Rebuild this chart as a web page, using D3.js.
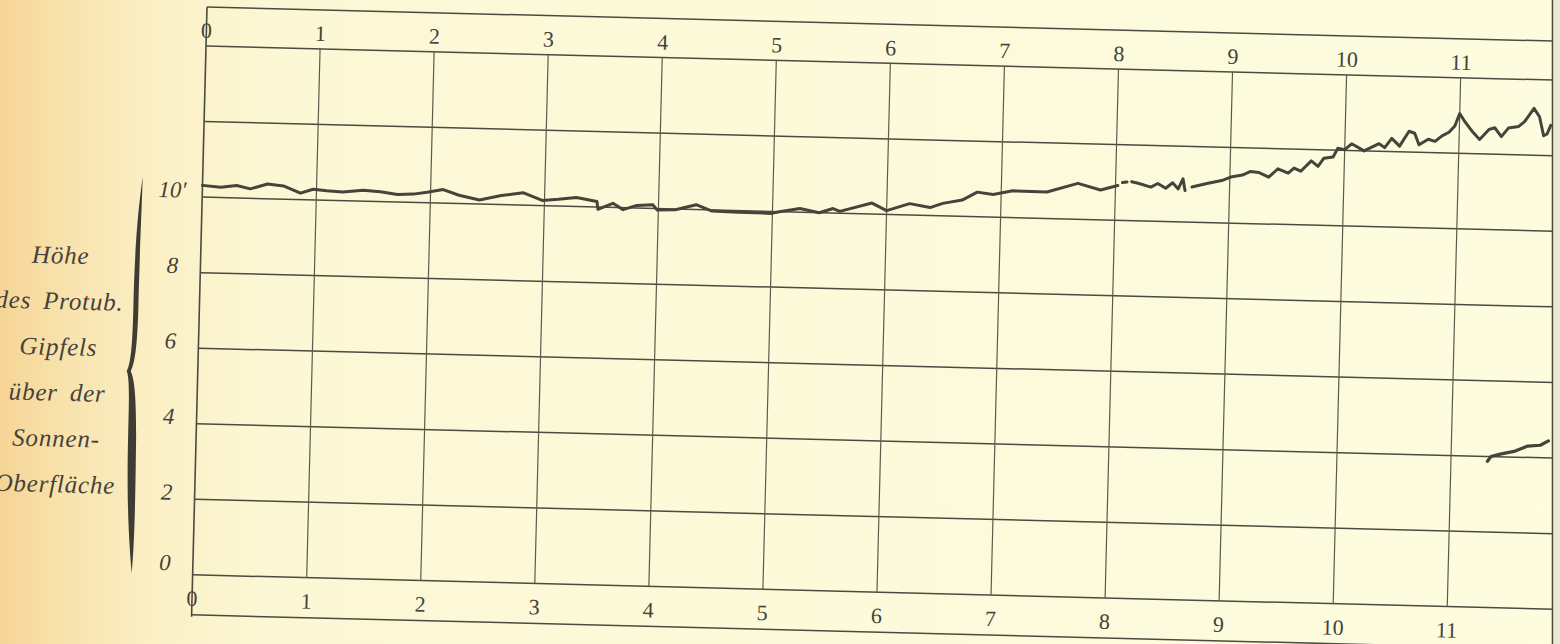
<!DOCTYPE html>
<html>
<head>
<meta charset="utf-8">
<script src="https://cdn.jsdelivr.net/npm/d3@7"></script>
<style>
  html, body { margin: 0; padding: 0; background: #fcfbdc; }
  svg { display: block; }
  text { font-family: "Liberation Serif", "Times New Roman", serif; fill: #45423a; }
</style>
</head>
<body>
<svg id="chart"></svg>
<script>
// hour marks along top and bottom band
const hourTicks = [0, 1, 2, 3, 4, 5, 6, 7, 8, 9, 10, 11];
const hourLabels = ["0", "1", "2", "3", "4", "5", "6", "7", "8", "9", "10", "11"];

// height scale (minutes of arc)
const heightTicks = [0, 2, 4, 6, 8, 10];
const heightLabels = ["0", "2", "4", "6", "8", "10′"];
const gridHeights = [0, 2, 4, 6, 8, 10, 12, 14];

const captionLines = ["Höhe", "des Protub.", "Gipfels", "über der", "Sonnen-", "Oberfläche"];

// main trace (null = break in the pen line)
const mainHours = [
    0.00, 0.16, 0.30, 0.42, 0.57, 0.71, 0.86, 0.97, 1.09, 1.23, 1.41, 1.56, 1.71, 1.85, 1.97,
    2.11, 2.25, 2.43, 2.62, 2.81, 2.98, 3.12, 3.28, 3.46, 3.47, 3.60, 3.69, 3.81, 3.95, 3.99,
    4.15, 4.33, 4.47, 4.70, 4.99, 5.06, 5.24, 5.41, 5.53, 5.59, 5.87, 6.00, 6.20, 6.38, 6.49,
    6.66, 6.79, 6.93, 7.10, 7.40, 7.67, 7.87, 8.02, null, 8.06, 8.10, null, 8.14, 8.19, 8.31,
    8.37, 8.44, 8.50, 8.55, 8.59, 8.61, null, 8.67, 8.80, 8.94, 9.02, 9.11, 9.18, 9.25, 9.34,
    9.42, 9.51, 9.56, 9.62, 9.71, 9.77, 9.82, 9.90, 9.94, 10.00, 10.06, 10.17, 10.30, 10.35,
    10.41, 10.48, 10.56, 10.61, 10.65, 10.73, 10.79, 10.85, 10.91, 10.96, 11.00, 11.04, 11.11,
    11.18, 11.26, 11.31, 11.37, 11.43, 11.52, 11.57, 11.65, 11.70, 11.74, 11.77, 11.80
];
const mainHeights = [
    10.31, 10.27, 10.33, 10.25, 10.39, 10.35, 10.17, 10.28, 10.25, 10.23, 10.29, 10.26, 10.20, 10.22, 10.28,
    10.36, 10.22, 10.11, 10.24, 10.33, 10.14, 10.18, 10.24, 10.15, 9.94, 10.11, 9.95, 10.07, 10.10, 9.96,
    9.98, 10.13, 9.97, 9.96, 9.95, 10.00, 10.10, 10.00, 10.12, 10.05, 10.29, 10.10, 10.30, 10.21, 10.33,
    10.43, 10.65, 10.60, 10.71, 10.70, 10.95, 10.79, 10.92, null, 11.00, 11.02, null, 11.03, 11.00, 10.90,
    11.00, 10.88, 11.03, 10.87, 11.14, 10.83, null, 10.93, 11.03, 11.13, 11.23, 11.28, 11.38, 11.36, 11.24,
    11.47, 11.36, 11.50, 11.42, 11.70, 11.56, 11.78, 11.82, 12.05, 12.02, 12.18, 12.00, 12.20, 12.10,
    12.35, 12.15, 12.55, 12.50, 12.20, 12.35, 12.30, 12.45, 12.55, 12.72, 13.05, 12.87, 12.60,
    12.38, 12.65, 12.70, 12.47, 12.70, 12.75, 12.88, 13.24, 13.02, 12.52, 12.57, 12.80
];

// second, lower trace at the right end
const lowerHours = [11.32, 11.35, 11.43, 11.55, 11.67, 11.78, 11.85];
const lowerHeights = [3.87, 4.00, 4.07, 4.15, 4.30, 4.33, 4.45];

const W = 1560, H = 644;
const rightEdge = 1552.5;
const svg = d3.select("#chart").attr("width", W).attr("height", H);

// paper tone, darker towards the binding on the left
const defs = svg.append("defs");
const grad = defs.append("linearGradient")
    .attr("id", "paper").attr("x1", 0).attr("x2", 1).attr("y1", 0).attr("y2", 0);
[[0, "#f6d596"], [0.04, "#f8e2ac"], [0.1, "#fbf0c6"], [0.18, "#fcf8d6"], [1, "#fdfcdf"]]
    .forEach(([o, c]) => grad.append("stop").attr("offset", o).attr("stop-color", c));
defs.append("clipPath").attr("id", "page")
    .append("rect").attr("x", 0).attr("y", 0).attr("width", rightEdge).attr("height", H);

svg.append("rect").attr("width", W).attr("height", H).attr("fill", "url(#paper)");
svg.append("rect").attr("x", rightEdge + 1.5).attr("width", W - rightEdge).attr("height", H).attr("fill", "#ebe9d0");

// the printed page is scanned slightly askew
const page = svg.append("g").attr("clip-path", "url(#page)");
const chart = page.append("g").attr("transform", "translate(207,7) rotate(1.45)");

const x = d3.scaleLinear().domain([0, 11.85]).range([0, 1352]);
const y = d3.scaleLinear().domain([0, 14]).range([568, 39]);
const bandBottom = 608;
const ink = "#4d4a3f";

// horizontal rules
chart.append("line").attr("x1", x(0)).attr("x2", x(12)).attr("y1", 0).attr("y2", 0)
    .attr("stroke", ink).attr("stroke-width", 1.5);
chart.append("line").attr("x1", x(0)).attr("x2", x(12)).attr("y1", bandBottom).attr("y2", bandBottom)
    .attr("stroke", ink).attr("stroke-width", 1.5);
chart.selectAll(".hgrid")
    .data(gridHeights)
    .enter().append("line")
    .attr("class", "hgrid")
    .attr("x1", x(0)).attr("x2", x(12))
    .attr("y1", d => y(d)).attr("y2", d => y(d))
    .attr("stroke", ink).attr("stroke-width", 1.5);

// vertical rules
chart.selectAll(".vgrid")
    .data(hourTicks.filter(d => d > 0))
    .enter().append("line")
    .attr("class", "vgrid")
    .attr("x1", d => x(d)).attr("x2", d => x(d))
    .attr("y1", y(14)).attr("y2", y(0))
    .attr("stroke", "#5d5a4c").attr("stroke-width", 1.2);
chart.append("line").attr("x1", x(0)).attr("x2", x(0)).attr("y1", 0).attr("y2", bandBottom + 2)
    .attr("stroke", ink).attr("stroke-width", 1.6);

// hour numbers
chart.selectAll(".topnum")
    .data(hourTicks)
    .enter().append("text")
    .attr("class", "topnum")
    .attr("x", d => x(d)).attr("y", 31)
    .attr("text-anchor", "middle")
    .attr("font-size", 22)
    .text((d, i) => hourLabels[i]);
chart.selectAll(".botnum")
    .data(hourTicks)
    .enter().append("text")
    .attr("class", "botnum")
    .attr("x", d => x(d)).attr("y", 599)
    .attr("text-anchor", "middle")
    .attr("font-size", 22)
    .text((d, i) => hourLabels[i]);

// height numbers
chart.selectAll(".hnum")
    .data(heightTicks)
    .enter().append("text")
    .attr("class", "hnum")
    .attr("x", d => d == 10 ? -30 : -28)
    .attr("y", d => y(d) + (d == 0 ? -4 : 1))
    .attr("text-anchor", "middle")
    .attr("font-size", 23)
    .attr("font-style", "italic")
    .text((d, i) => heightLabels[i]);

// brace
chart.append("path")
    .attr("d", "M-60,171 C-63,200 -66,230 -66,300 C-66,340 -67,358 -71,366 C-68,374 -68,392 -68,430 " +
               "C-68,500 -64,540 -61,568 C-59,540 -59,500 -60,430 C-61,392 -63,374 -67,366 " +
               "C-63,358 -61,340 -61,300 C-61,230 -60,200 -60,171 Z")
    .attr("fill", "#3f3c33");

// caption
chart.selectAll(".caption")
    .data(captionLines)
    .enter().append("text")
    .attr("class", "caption")
    .attr("x", -140)
    .attr("y", (d, i) => 260 + i * 45.8)
    .attr("text-anchor", "middle")
    .attr("font-size", 25)
    .attr("font-style", "italic")
    .attr("letter-spacing", 0.8)
    .attr("word-spacing", 5)
    .text(d => d);

// traces
const line = d3.line()
    .defined(d => d[0] != null && d[1] != null)
    .x(d => x(d[0]))
    .y(d => y(d[1]));

chart.append("path")
    .datum(mainHours.map((h, i) => [h, mainHeights[i]]))
    .attr("fill", "none")
    .attr("stroke", "#46443a")
    .attr("stroke-width", 3)
    .attr("stroke-linejoin", "round")
    .attr("stroke-linecap", "round")
    .attr("d", line);

chart.append("path")
    .datum(lowerHours.map((h, i) => [h, lowerHeights[i]]))
    .attr("fill", "none")
    .attr("stroke", "#46443a")
    .attr("stroke-width", 3.2)
    .attr("stroke-linejoin", "round")
    .attr("stroke-linecap", "round")
    .attr("d", line);

// right edge of the printed frame (runs straight on the scan)
svg.append("line")
    .attr("x1", rightEdge).attr("x2", rightEdge).attr("y1", 0).attr("y2", H)
    .attr("stroke", ink).attr("stroke-width", 1.6);
</script>
</body>
</html>
